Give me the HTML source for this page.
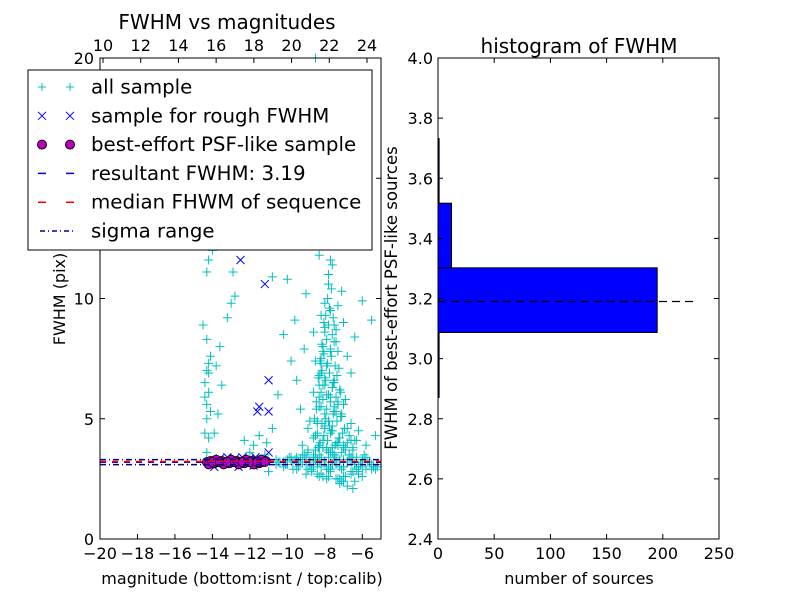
<!DOCTYPE html>
<html><head><meta charset="utf-8"><style>
body{margin:0;background:#fff}
svg text{font-family:"DejaVu Sans","Liberation Sans",sans-serif;fill:#000}
</style></head><body>
<svg id="c" width="800" height="600" xmlns="http://www.w3.org/2000/svg">
<rect width="800" height="600" fill="#fff"/>
<g id="L"></g><g id="R"></g>
</svg>
<script>
const cyanX=[-14.3,-14.2,-14.4,-14.3,-14.1,-14.3,-14.2,-14.4,-14.3,-14.2,-14.1,-14.3,-14.2,-14.0,-14.3,-14.5,-14.2,-14.4,-13.9,-13.7,-13.5,-13.2,-13.8,-13.6,-12.8,-12.9,-13.3,-13.0,-12.3,-12.0,-11.8,-11.5,-11.1,-11.2,-10.8,-10.5,-10.2,-10.0,-9.8,-9.6,-9.5,-9.3,-9.1,-9.0,-8.9,-8.8,-8.7,-8.6,-8.5,-8.4,-8.3,-8.2,-8.1,-8.0,-7.9,-7.8,-7.7,-7.6,-7.5,-7.4,-7.3,-7.2,-7.1,-7.0,-6.9,-6.8,-6.6,-6.4,-6.2,-6.0,-5.8,-5.5,-5.3,-8.5,-8.3,-8.1,-7.9,-7.7,-7.5,-7.3,-8.6,-8.2,-8.0,-7.8,-7.6,-7.4,-8.4,-8.0,-7.6,-7.2,-6.8,-8.8,-8.5,-8.1,-7.7,-7.3,-6.9,-6.5,-9.2,-8.9,-8.3,-7.9,-7.5,-7.1,-6.7,-6.3,-9.5,-9.0,-8.6,-8.2,-7.8,-7.4,-7.0,-6.6,-6.1,-5.7,-10.1,-9.7,-9.3,-8.8,-8.4,-8.0,-7.6,-7.2,-6.8,-6.4,-6.0,-5.6,-5.2,-10.6,-10.2,-9.8,-9.4,-9.0,-8.6,-8.2,-7.8,-7.4,-7.0,-6.6,-6.2,-5.8,-5.4,-11.0,-10.5,-10.0,-9.5,-9.0,-8.5,-8.0,-7.5,-7.0,-6.5,-6.0,-5.5,-8.3,-8.0,-7.7,-7.4,-8.1,-7.9,-7.5,-8.2,-7.8,-8.4,-7.6,-8.0,-7.8,-8.3,-7.2,-7.0,-9.0,-8.7,-8.4,-8.1,-7.7,-7.3,-6.9,-6.5,-6.2,-9.7,-9.2,-8.9,-8.6,-7.3,-6.8,-6.3,-7.9,-8.3,-7.6,-7.1,-6.6,-8.6,-8.2,-7.7,-8.0,-7.5,
-8.45,-8.25,-8.05,-7.85,-7.65,-7.45,-7.25,-7.05,-8.35,-8.15,-7.95,-7.75,-7.55,-7.35,-7.15,-6.95,-8.5,-8.3,-8.1,-7.9,-7.7,-7.5,-7.3,-7.1,-8.4,-8.2,-8.0,-7.8,-7.6,-7.4,-7.2,-7.0,-8.55,-8.35,-8.15,-7.95,-7.75,-7.55,-7.35,-7.15,-8.45,-8.25,-8.05,-7.85,-7.65,-7.45,-7.25,-8.3,-8.1,-7.9,-7.7,-7.5,-7.3,-8.2,-8.0,-7.8,-7.6,-7.4,-8.15,-7.95,-7.75,-7.55,-8.05,-7.85,-7.65,-8.0,-7.8,-7.7,-8.25,-7.5,
-10.8,-10.4,-10.0,-9.6,-9.2,-8.8,-8.4,-8.0,-7.6,-7.2,-6.8,-6.4,-6.0,-5.6,-5.2,-10.6,-10.2,-9.8,-9.4,-9.0,-8.6,-8.2,-7.8,-7.4,-7.0,-6.6,-6.2,-5.8,-5.4,-9.9,-9.5,-9.1,-8.7,-8.3,-7.9,-7.5,-7.1,-6.7,-6.3,-5.9,-5.5,-8.6,-8.2,-7.8,-7.4,-7.0,-6.6,-6.2,-8.9,-8.5,-8.1,-7.7,-7.3,-6.9,-6.5,-7.6,-7.2,-6.8,-6.4,-7.9,-7.4,-7.0,-6.6,-8.3,-7.7,-7.1,-6.5,-6.0,-5.3,-7.0,-6.7,-6.4];
const cyanY=[3.6,4.2,4.4,5.0,5.3,5.6,6.1,6.5,7.0,7.3,7.6,8.3,11.6,12.0,11.1,8.9,6.9,5.9,4.4,5.2,6.4,9.2,7.2,8.0,10.1,11.1,12.3,9.8,4.1,3.6,3.9,4.3,4.0,3.5,4.6,6.0,8.5,10.8,7.4,9.1,6.6,5.4,7.9,10.2,4.6,12.4,14.8,8.6,20.0,16.9,11.8,9.3,13.6,18.0,15.4,10.6,12.9,11.4,8.9,14.1,9.7,6.2,10.3,9.0,5.8,7.6,6.9,8.4,4.5,9.9,3.9,9.1,4.3,7.4,6.8,6.4,7.2,5.9,6.5,5.7,6.1,5.5,5.2,4.9,4.7,5.3,4.8,4.6,4.5,4.2,4.0,4.9,4.3,4.1,4.4,3.9,3.8,3.7,3.9,3.6,3.8,3.7,3.5,3.6,3.5,3.4,3.4,3.3,3.4,3.3,3.4,3.2,3.3,3.2,3.1,3.2,3.1,3.2,3.3,3.2,3.1,3.2,3.1,3.0,3.2,3.1,3.0,3.2,3.0,3.1,3.2,3.3,3.2,3.1,3.2,3.0,2.9,3.1,3.0,2.8,3.0,2.9,3.0,2.8,3.2,3.3,3.3,3.2,3.3,3.2,3.3,3.2,3.3,3.2,3.1,3.2,8.8,9.5,8.2,7.8,6.0,5.5,6.9,4.9,4.4,3.8,4.7,3.6,2.6,2.5,2.4,2.7,2.8,2.7,2.6,2.9,2.5,2.6,2.8,2.7,2.9,3.5,3.7,3.4,4.0,4.6,4.1,3.8,5.9,6.3,5.1,4.8,4.2,7.3,7.8,6.7,6.6,5.4,
4.0,4.3,4.1,4.5,3.9,4.2,4.4,3.8,4.8,5.0,4.7,5.2,4.9,5.1,4.6,4.3,5.5,5.8,5.4,5.7,5.3,5.6,5.2,4.9,6.1,6.4,6.0,6.3,5.9,6.2,5.6,5.0,6.7,7.0,6.6,6.9,6.5,6.8,6.1,5.7,7.4,7.7,7.3,7.6,7.2,7.1,6.4,8.0,8.3,7.9,8.2,7.8,7.5,8.6,8.9,8.5,8.7,8.1,9.3,9.6,9.2,9.0,10.0,10.4,9.8,11.0,11.6,12.2,13.1,10.9,
3.2,3.1,3.3,3.2,3.1,3.3,3.2,3.1,3.3,3.2,3.1,3.3,3.2,3.1,3.3,3.0,3.4,3.0,3.4,3.0,3.4,3.0,3.4,3.0,3.4,3.0,3.4,3.0,3.4,2.9,3.5,2.9,3.5,2.9,3.5,2.9,3.5,2.9,3.5,2.9,3.5,2.7,2.6,2.5,2.6,2.7,2.8,2.9,3.7,3.8,3.6,3.9,3.7,3.8,3.6,2.3,2.2,2.4,2.5,4.0,3.9,4.1,3.9,2.8,2.4,2.1,2.6,2.9,3.8,4.3,4.1,3.7];
const blueX=[-12.5,-11.2,-11.0,-11.5,-11.6,-11.0,-11.0,-13.6,-13.2,-12.8,-12.4,-12.0,-11.7,-11.4,-12.6,-11.8,-13.9];
const blueY=[11.6,10.6,6.6,5.5,5.3,5.3,3.6,3.35,3.4,3.35,3.4,3.35,3.4,3.3,3.0,3.05,3.0];
const magX=[-14.3,-14.1,-13.9,-13.7,-13.5,-13.3,-13.1,-12.9,-12.7,-12.5,-12.3,-12.1,-11.9,-11.7,-11.5,-11.3,-11.15,-14.2,-13.8,-13.4,-13.0,-12.6,-12.2,-11.8,-11.4,-14.0,-13.6,-13.2,-12.8,-12.4,-12.0,-11.6,-11.2];
const magY=[3.2,3.25,3.15,3.2,3.25,3.2,3.15,3.2,3.25,3.2,3.15,3.2,3.25,3.2,3.15,3.2,3.25,3.1,3.3,3.1,3.3,3.1,3.3,3.1,3.3,3.2,3.2,3.2,3.2,3.2,3.2,3.2,3.2];
const resultFWHM=3.19, medianFWHM=3.22, sigmaLo=3.09, sigmaHi=3.30;
const xTicks=[-20,-18,-16,-14,-12,-10,-8,-6];
const yTicks=[0,5,10,15,20];
const topTicks=[10,12,14,16,18,20,22,24];
const binEdges=[2.871,3.087,3.302,3.517,3.732];
const binCounts=[1,195,12,1];
const hxTicks=[0,50,100,150,200,250];
const hyTicks=[2.4,2.6,2.8,3.0,3.2,3.4,3.6,3.8,4.0];

const NS="http://www.w3.org/2000/svg";
function mk(p,t,a,txt){const e=document.createElementNS(NS,t);for(const k in a)e.setAttribute(k,a[k]);if(txt!==undefined)e.textContent=txt;p.appendChild(e);return e;}
const L=document.getElementById('L'),R=document.getElementById('R');
const lx0=100,lx1=381,ly0=58,ly1=539;
const sx=m=>lx0+(m+20)/15*(lx1-lx0);
const sy=v=>ly1-v/20*(ly1-ly0);
const tx=c=>103+(c-10)/14*264;
function hline(y,color,dash,name){const e=mk(L,'line',{x1:lx0,x2:lx1,y1:sy(y),y2:sy(y),stroke:color,'stroke-width':1.5,'stroke-dasharray':dash});}
for(let i=0;i<cyanX.length;i++){const x=sx(cyanX[i]),y=sy(cyanY[i]);if(y<ly0)continue;const p=mk(L,'path',{d:`M${x-4.5} ${y}H${x+4.5}M${x} ${y-4.5}V${y+4.5}`,stroke:'#00bfbf','stroke-width':1});}
for(let i=0;i<blueX.length;i++){const x=sx(blueX[i]),y=sy(blueY[i]);const p=mk(L,'path',{d:`M${x-4} ${y-4}L${x+4} ${y+4}M${x-4} ${y+4}L${x+4} ${y-4}`,stroke:'#0000ff','stroke-width':1});}
for(let i=0;i<magX.length;i++){const p=mk(L,'circle',{cx:sx(magX[i]),cy:sy(magY[i]),r:4.5,fill:'#bf00bf',stroke:'#000','stroke-width':0.8});}
hline(sigmaLo,'#00008b','6 3 1 3','sigma-low-line');hline(sigmaHi,'#00008b','6 3 1 3','sigma-high-line');
hline(resultFWHM,'#0000ff','6 6','resultant-fwhm-line');hline(medianFWHM,'#ff0000','6 6','median-fwhm-line');
let f=mk(L,'rect',{x:lx0,y:ly0,width:lx1-lx0,height:ly1-ly0,fill:'none',stroke:'#000'});
xTicks.forEach(t=>{const x=sx(t);mk(L,'line',{x1:x,x2:x,y1:ly1,y2:ly1-5,stroke:'#000'});const e=mk(L,'text',{x:x,y:559,'font-size':16,'text-anchor':'middle'},t<0?'\u2212'+(-t):t);});
yTicks.forEach(t=>{const y=sy(t);mk(L,'line',{x1:lx0,x2:lx0+5,y1:y,y2:y,stroke:'#000'});mk(L,'line',{x1:lx1,x2:lx1-5,y1:y,y2:y,stroke:'#000'});const e=mk(L,'text',{x:94,y:y+6,'font-size':16,'text-anchor':'end'},t);});
topTicks.forEach(t=>{const x=tx(t);mk(L,'line',{x1:x,x2:x,y1:ly0,y2:ly0+5,stroke:'#000'});const e=mk(L,'text',{x:x,y:51,'font-size':16,'text-anchor':'middle'},t);});
let e;
e=mk(L,'text',{x:227,y:29,'font-size':20,'text-anchor':'middle'},'FWHM vs magnitudes');
e=mk(L,'text',{x:242,y:584,'font-size':16,'text-anchor':'middle'},'magnitude (bottom:isnt / top:calib)');
e=mk(L,'text',{x:0,y:0,'font-size':16,'text-anchor':'middle',transform:'translate(65,299) rotate(-90)'},'FWHM (pix)');
const lg=mk(L,'g',{});
mk(lg,'rect',{x:28,y:70,width:344,height:180,fill:'#fff',stroke:'#000'});
const labels=['all sample','sample for rough FWHM','best-effort PSF-like sample','resultant FWHM: 3.19','median FHWM of sequence','sigma range'];
labels.forEach((s,i)=>{const y=87+i*28.8;const g=mk(lg,'g',{});
[42,70].forEach(x=>{if(i==0)mk(g,'path',{d:`M${x-4} ${y}H${x+4}M${x} ${y-4}V${y+4}`,stroke:'#00bfbf'});
else if(i==1)mk(g,'path',{d:`M${x-4} ${y-4}L${x+4} ${y+4}M${x-4} ${y+4}L${x+4} ${y-4}`,stroke:'#0000ff'});
else if(i==2)mk(g,'circle',{cx:x,cy:y,r:4.5,fill:'#bf00bf',stroke:'#000'});});
if(i==3)mk(g,'line',{x1:38,x2:76,y1:y,y2:y,stroke:'#0000ff','stroke-width':1.5,'stroke-dasharray':'8 20'});
if(i==4)mk(g,'line',{x1:38,x2:76,y1:y,y2:y,stroke:'#ff0000','stroke-width':1.5,'stroke-dasharray':'8 20'});
if(i==5)mk(g,'line',{x1:40,x2:76,y1:y,y2:y,stroke:'#00008b','stroke-width':1.5,'stroke-dasharray':'5 3 1 3'});
mk(g,'text',{x:91,y:y+6.5,'font-size':19.8},s);});
const rx0=438,rx1=719,ry0=58,ry1=539;
const hx=v=>rx0+v/250*(rx1-rx0);
const hy=v=>ry1-(v-2.4)/1.6*(ry1-ry0);
for(let i=0;i<binCounts.length;i++){const b=mk(R,'rect',{x:rx0,y:hy(binEdges[i+1]),width:hx(binCounts[i])-rx0,height:hy(binEdges[i])-hy(binEdges[i+1]),fill:'#0000ff',stroke:'#000','stroke-width':1});}
e=mk(R,'line',{x1:rx0,x2:697,y1:hy(resultFWHM),y2:hy(resultFWHM),stroke:'#000','stroke-width':1.3,'stroke-dasharray':'8 5'});
f=mk(R,'rect',{x:rx0,y:ry0,width:rx1-rx0,height:ry1-ry0,fill:'none',stroke:'#000'});
hxTicks.forEach(t=>{const x=hx(t);mk(R,'line',{x1:x,x2:x,y1:ry1,y2:ry1-5,stroke:'#000'});mk(R,'line',{x1:x,x2:x,y1:ry0,y2:ry0+5,stroke:'#000'});const e=mk(R,'text',{x:x,y:559,'font-size':16,'text-anchor':'middle'},t);});
hyTicks.forEach(t=>{const y=hy(t);mk(R,'line',{x1:rx0,x2:rx0+5,y1:y,y2:y,stroke:'#000'});mk(R,'line',{x1:rx1,x2:rx1-5,y1:y,y2:y,stroke:'#000'});const e=mk(R,'text',{x:433,y:y+6,'font-size':16,'text-anchor':'end'},t.toFixed(1));});
e=mk(R,'text',{x:579,y:53,'font-size':20,'text-anchor':'middle'},'histogram of FWHM');
e=mk(R,'text',{x:579,y:584,'font-size':16,'text-anchor':'middle'},'number of sources');
e=mk(R,'text',{x:0,y:0,'font-size':16.5,'text-anchor':'middle',transform:'translate(397,298) rotate(-90)'},'FWHM of best-effort PSF-like sources');
</script>
</body></html>
